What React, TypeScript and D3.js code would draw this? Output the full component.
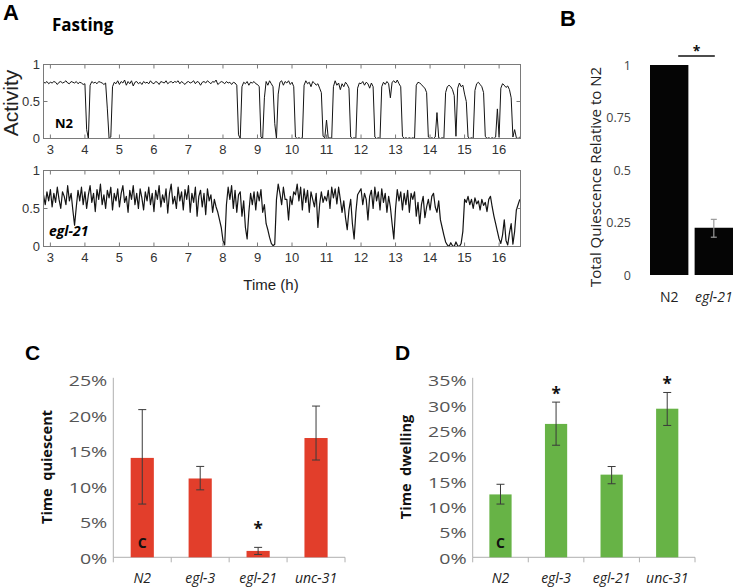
import React from "react";
import * as d3 from "d3";

// ---------------- Panel A : activity traces ----------------
const traceStartH = 2.8;
const sampleStepH = 0.05;
const hourTicks = [3, 4, 5, 6, 7, 8, 9, 10, 11, 12, 13, 14, 15, 16];
const activityTicks = [0, 0.5, 1];

// N2 activity, one sample every 0.05 h from 2.80 h
const n2Activity = [
  .76, .75, .77, .74,
  .76, .75, .77, .76, .73, .76, .77, .75, .76, .78, .75, .74, .77, .76, .75, .77, .74, .76, .75, .73,
  .74, .12, .00, .72, .77, .75, .76, .74, .77, .76, .75, .73, .75, .40, .00, .02, .70, .76, .74, .78,
  .73, .77, .75, .79, .72, .77, .74, .78, .71, .76, .77, .74, .76, .73, .77, .75, .76, .74, .78, .75,
  .74, .77, .76, .73, .77, .76, .75, .78, .74, .76, .77, .75, .77, .76, .78, .74, .77, .75, .73, .76,
  .77, .75, .76, .78, .74, .77, .76, .72, .76, .77, .75, .78, .76, .74, .77, .76, .79, .73, .75, .77,
  .76, .74, .77, .75, .76, .73, .76, .75, .72, .05, .00, .70, .76, .74, .77, .72, .76, .75, .77, .74,
  .73, .70, .02, .00, .55, .77, .72, .78, .74, .70, .20, .00, .60, .76, .78, .72, .77, .75, .78, .73,
  .76, .70, .02, .00, .01, .00, .01, .72, .78, .74, .76, .70, .77, .75, .72, .74, .68, .62, .03, .01,
  .25, .00, .01, .00, .70, .78, .72, .75, .66, .74, .70, .76, .73, .68, .02, .00, .01, .00, .68, .75,
  .74, .77, .72, .76, .74, .68, .75, .70, .02, .00, .01, .00, .70, .76, .73, .77, .74, .55, .76, .78,
  .75, .79, .74, .70, .03, .00, .01, .00, .01, .00, .01, .00, .72, .76, .75, .73, .70, .68, .62, .02,
  .00, .01, .00, .02, .35, .01, .00, .01, .00, .62, .70, .72, .70, .66, .58, .03, .68, .75, .70, .72,
  .60, .50, .02, .00, .01, .00, .65, .74, .76, .73, .70, .62, .03, .00, .01, .00, .01, .00, .02, .40,
  .02, .68, .74, .72, .69, .71, .66, .55, .02, .12, .01, .00, .02,
];

// egl-21 activity, one sample every 0.05 h from 2.80 h
const egl21Activity = [
  .68, .55, .72, .60,
  .75, .52, .70, .58, .78, .62, .50, .72, .66, .55, .80, .60, .70, .48, .28, .52, .74, .60, .78, .55,
  .72, .50, .68, .80, .58, .70, .46, .75, .62, .82, .55, .68, .50, .74, .64, .78, .48, .70, .60, .76,
  .52, .70, .80, .58, .66, .45, .74, .62, .80, .55, .70, .50, .76, .64, .48, .72, .60, .78, .55, .70,
  .46, .74, .62, .80, .52, .68, .58, .76, .44, .70, .82, .56, .66, .50, .78, .60, .72, .48, .75, .62,
  .80, .45, .70, .58, .78, .40, .66, .74, .52, .70, .42, .76, .60, .68, .45, .62, .52, .45, .35, .25,
  .08, .02, .55, .78, .62, .80, .50, .74, .45, .68, .72, .40, .60, .25, .10, .45, .70, .55, .72, .48,
  .72, .60, .75, .45, .55, .30, .22, .12, .04, .01, .03, .62, .82, .70, .55, .78, .62, .62, .35, .66,
  .55, .72, .68, .82, .60, .78, .48, .76, .58, .74, .45, .72, .62, .52, .70, .25, .55, .72, .58, .66,
  .60, .74, .50, .78, .64, .76, .56, .78, .62, .45, .60, .38, .22, .48, .62, .30, .10, .45, .68, .72,
  .76, .55, .70, .62, .35, .66, .74, .50, .78, .60, .72, .48, .76, .58, .70, .45, .66, .52, .30, .10,
  .50, .75, .60, .72, .48, .70, .55, .74, .45, .70, .62, .72, .40, .58, .30, .55, .66, .38, .52, .62,
  .48, .66, .70, .52, .45, .60, .35, .25, .15, .06, .02, .00, .05, .01, .00, .06, .01, .00, .04, .20,
  .62, .58, .66, .55, .62, .50, .64, .56, .60, .48, .62, .54, .58, .46, .62, .66, .52, .40, .30, .20,
  .10, .04, .15, .35, .08, .02, .18, .30, .03, .20, .48, .55, .62,
];

// ---------------- Panel B ----------------
const bGenotypes = ["N2", "egl-21"];
const bValues = [1, 0.225];
const bErrLow = [null, 0.18];
const bErrHigh = [null, 0.265];
const bTicks = [0, 0.25, 0.5, 0.75, 1];
const bTickLabels = ["0", "0.25", "0.5", "0.75", "1"];

// ---------------- Panels C and D ----------------
const cdGenotypes = ["N2", "egl-3", "egl-21", "unc-31"];

const quiescentPct = [14.0, 11.1, 0.9, 16.8];
const quiescentLow = [7.5, 9.5, 0.4, 13.7];
const quiescentHigh = [20.8, 12.8, 1.4, 21.3];
const quiescentTicks = [0, 5, 10, 15, 20, 25];
const quiescentStars = [false, false, true, false];

const dwellingPct = [12.4, 26.3, 16.3, 29.3];
const dwellingLow = [10.5, 22.1, 14.5, 26.0];
const dwellingHigh = [14.4, 30.6, 17.9, 32.5];
const dwellingTicks = [0, 5, 10, 15, 20, 25, 30, 35];
const dwellingStars = [false, true, false, true];

const ARIAL = "'Liberation Sans', Arial, sans-serif";
const SANS = "'Open Sans', 'Noto Sans', sans-serif";

type Pt = [number, number];

const xTime = d3.scaleLinear().domain([2.8, 16.62]).range([43.5, 520.5]);

function toSeries(vals: number[]): Pt[] {
  return vals.map((v, i) => [traceStartH + i * sampleStepH, v] as Pt);
}

function TracePanel({ top, bottom, values, label, italic, id, lineWidth }: any) {
  const y = d3.scaleLinear().domain([0, 1]).range([bottom, top]);
  const x0 = xTime.range()[0];
  const x1 = xTime.range()[1];
  const line = d3
    .line<Pt>()
    .x((d) => xTime(d[0]))
    .y((d) => y(d[1]));
  const path = line(toSeries(values)) || "";
  return (
    <g>
      <defs>
        <clipPath id={id}>
          <rect x={x0} y={top - 1} width={x1 - x0} height={bottom - top + 2} />
        </clipPath>
      </defs>
      <path d={path} fill="none" stroke="#141414" strokeWidth={lineWidth} strokeLinejoin="round" clipPath={`url(#${id})`} />
      <rect x={x0} y={top} width={x1 - x0} height={bottom - top} fill="none" stroke="#7a7a7a" strokeWidth={1} />
      {hourTicks.map((h) => (
        <g key={h}>
          <line x1={xTime(h)} x2={xTime(h)} y1={top} y2={top + 4} stroke="#7a7a7a" />
          <line x1={xTime(h)} x2={xTime(h)} y1={bottom} y2={bottom - 4} stroke="#7a7a7a" />
          <text x={xTime(h)} y={bottom + 15} textAnchor="middle" fontFamily={ARIAL} fontSize={13} fill="#333">
            {h}
          </text>
        </g>
      ))}
      <line x1={x0} x2={x0 + 4} y1={y(0.5)} y2={y(0.5)} stroke="#7a7a7a" />
      <line x1={x1} x2={x1 - 4} y1={y(0.5)} y2={y(0.5)} stroke="#7a7a7a" />
      {activityTicks.map((t) => (
        <text key={t} x={40} y={y(t) + 1.5} textAnchor="end" dominantBaseline="middle" fontFamily={ARIAL} fontSize={13} fill="#333">
          {t}
        </text>
      ))}
      <text x={italic ? 49 : 55} y={bottom - 11} fontFamily={SANS} fontWeight="bold" fontStyle={italic ? "italic" : "normal"} fontSize={italic ? 14 : 13} fill="#000">
        {label}
      </text>
    </g>
  );
}

function PanelB() {
  const y = d3.scaleLinear().domain([0, 1]).range([275, 65]);
  const x = d3.scaleBand<string>().domain(bGenotypes).range([650, 733]).paddingInner(0.14).paddingOuter(0);
  const bw = x.bandwidth();
  const n2c = (x("N2") || 0) + bw / 2;
  const ec = (x("egl-21") || 0) + bw / 2;
  return (
    <g>
      <text x={560} y={26} fontFamily={ARIAL} fontWeight="bold" fontSize={22}>B</text>
      {bTicks.map((t, i) => (
        <text key={t} x={631} y={y(t)} textAnchor="end" dominantBaseline="central" fontFamily={SANS} fontSize={12.5} fill="#444">
          {bTickLabels[i]}
        </text>
      ))}
      <text transform={`translate(601,177) rotate(-90)`} textAnchor="middle" fontFamily={SANS} fontSize={15} fill="#222">
        Total Quiescence Relative to N2
      </text>
      {bGenotypes.map((g, i) => (
        <g key={g}>
          <rect x={x(g)} y={y(bValues[i])} width={bw} height={y(0) - y(bValues[i])} fill="#050505" />
          {bErrLow[i] != null && (
            <g stroke="#9a9a9a" strokeWidth={1.2}>
              <line x1={(x(g) || 0) + bw / 2} x2={(x(g) || 0) + bw / 2} y1={y(bErrLow[i] as number)} y2={y(bErrHigh[i] as number)} />
              <line x1={(x(g) || 0) + bw / 2 - 3} x2={(x(g) || 0) + bw / 2 + 3} y1={y(bErrLow[i] as number)} y2={y(bErrLow[i] as number)} />
              <line x1={(x(g) || 0) + bw / 2 - 3} x2={(x(g) || 0) + bw / 2 + 3} y1={y(bErrHigh[i] as number)} y2={y(bErrHigh[i] as number)} />
            </g>
          )}
          <text x={(x(g) || 0) + bw / 2} y={302} textAnchor="middle" fontFamily={SANS} fontSize={14} fontStyle={i === 1 ? "italic" : "normal"} fill="#222">
            {g}
          </text>
        </g>
      ))}
      <line x1={n2c + 9} x2={ec + 1} y1={56} y2={56} stroke="#111" strokeWidth={1.5} />
      <text x={(n2c + 9 + ec + 1) / 2} y={56} textAnchor="middle" fontFamily={SANS} fontWeight="bold" fontSize={14} fill="#111">*</text>
    </g>
  );
}

function BarPanel({ letter, letterX, x0, x1, yMax, ticks, values, low, high, stars, starGap, color, title, titleX }: any) {
  const y = d3.scaleLinear().domain([0, yMax]).range([557.3, 379.8]);
  const x = d3.scaleBand<string>().domain(cdGenotypes).range([x0, x1]).padding(0);
  const bw = x.bandwidth();
  const barW = bw * 0.4;
  return (
    <g>
      <text x={letterX} y={360} fontFamily={ARIAL} fontWeight="bold" fontSize={21}>{letter}</text>
      <line x1={x0} x2={x0} y1={y(0)} y2={y(yMax) - 2} stroke="#b0b0b0" />
      <line x1={x0} x2={x1} y1={y(0)} y2={y(0)} stroke="#b0b0b0" />
      {cdGenotypes.map((g) => (
        <line key={"t" + g} x1={(x(g) || 0)} x2={(x(g) || 0)} y1={y(0)} y2={y(0) + 5} stroke="#b0b0b0" />
      ))}
      <line x1={x1} x2={x1} y1={y(0)} y2={y(0) + 5} stroke="#b0b0b0" />
      {ticks.map((t: number) => (
        <text key={t} transform={`translate(${x0 - 6},${y(t) + 1}) scale(1.4,1)`} textAnchor="end" dominantBaseline="central" fontFamily={SANS} fontSize={14} fill="#555">
          {t + "%"}
        </text>
      ))}
      <text transform={`translate(${titleX},467) rotate(-90)`} textAnchor="middle" fontFamily={SANS} fontWeight="bold" fontSize={14.5} fill="#111" style={{ whiteSpace: "pre" }}>
        {title}
      </text>
      {cdGenotypes.map((g, i) => {
        const cx = (x(g) || 0) + bw / 2;
        return (
          <g key={g}>
            <rect x={cx - barW / 2} y={y(values[i])} width={barW} height={y(0) - y(values[i])} fill={color} />
            <g stroke="#3a3a3a" strokeWidth={1}>
              <line x1={cx} x2={cx} y1={y(low[i])} y2={y(high[i])} />
              <line x1={cx - 4} x2={cx + 4} y1={y(low[i])} y2={y(low[i])} />
              <line x1={cx - 4} x2={cx + 4} y1={y(high[i])} y2={y(high[i])} />
            </g>
            {stars[i] && (
              <text x={cx} y={y(high[i]) - starGap + 9} textAnchor="middle" fontFamily={SANS} fontWeight="bold" fontSize={17} fill="#111">*</text>
            )}
            <text x={cx} y={583} textAnchor="middle" fontFamily={SANS} fontStyle="italic" fontSize={14} fill="#222">
              {g}
            </text>
          </g>
        );
      })}
      <text x={(x("N2") || 0) + bw / 2} y={548} textAnchor="middle" fontFamily={SANS} fontWeight="bold" fontSize={14} fill="#111">C</text>
    </g>
  );
}

export default function App() {
  return (
    <svg width={739} height={588} style={{ position: "absolute", left: 0, top: 0, background: "#fff" }}>
      <rect width={739} height={588} fill="#fff" />
      {/* Panel A */}
      <text x={3} y={20} fontFamily={ARIAL} fontWeight="bold" fontSize={22}>A</text>
      <text x={52} y={31} fontFamily={SANS} fontWeight="bold" fontSize={17}>Fasting</text>
      <text transform="translate(18,103) rotate(-90)" textAnchor="middle" fontFamily={ARIAL} fontSize={21} fill="#222">Activity</text>
      <TracePanel id="clipN2" top={64.5} bottom={138.5} values={n2Activity} label="N2" italic={false} lineWidth={1} />
      <TracePanel id="clipEgl" top={170.5} bottom={246.5} values={egl21Activity} label="egl-21" italic={true} lineWidth={1.2} />
      <text x={271} y={290} textAnchor="middle" fontFamily={ARIAL} fontSize={15} fill="#222">Time  (h)</text>
      {/* Panel B */}
      <PanelB />
      {/* Panel C */}
      <BarPanel letter="C" letterX={25} x0={113.3} x1={345} yMax={25} ticks={quiescentTicks} values={quiescentPct}
        low={quiescentLow} high={quiescentHigh} stars={quiescentStars} starGap={21} color="#e23e2b"
        title={"Time  quiescent"} titleX={52} />
      {/* Panel D */}
      <BarPanel letter="D" letterX={395} x0={472.7} x1={695} yMax={35} ticks={dwellingTicks} values={dwellingPct}
        low={dwellingLow} high={dwellingHigh} stars={dwellingStars} starGap={11} color="#67b346"
        title={"Time  dwelling"} titleX={411} />
    </svg>
  );
}
